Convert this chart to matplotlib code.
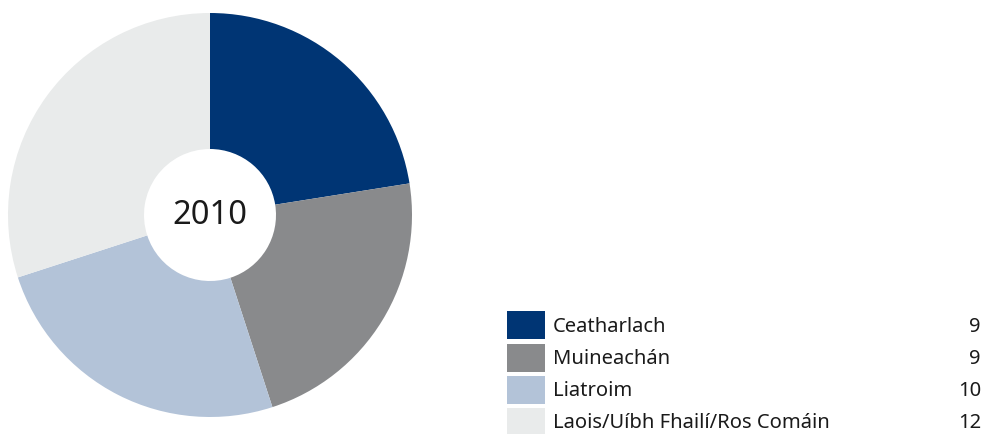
import matplotlib
matplotlib.use("Agg")
import matplotlib.pyplot as plt
from matplotlib.patches import Rectangle

plt.rcParams['font.family'] = ['Noto Sans', 'DejaVu Sans']

categories = ["Ceatharlach", "Muineachán", "Liatroim", "Laois/Uíbh Fhailí/Ros Comáin"]
values = [9, 9, 10, 12]
colors = ["#003574", "#898a8c", "#b3c3d8", "#e9ebeb"]
center_label = "2010"

W, H = 985, 434
fig = plt.figure(figsize=(W / 100, H / 100), dpi=100)

# Pie axes in pixel geometry
cx, cy, R = 210, 215, 202
inner = 66
ax = fig.add_axes([(cx - R) / W, (H - cy - R) / H, 2 * R / W, 2 * R / H])
ax.pie(values, colors=colors, startangle=90, counterclock=False, radius=1,
       wedgeprops=dict(width=1 - inner / R, linewidth=0))
ax.set_xlim(-1, 1)
ax.set_ylim(-1, 1)
ax.set_aspect('equal')
ax.axis('off')
ax.text(0, 0, center_label, ha='center', va='center', fontsize=23.5, color='#1a1a1a')

# Legend in pixel coords
lax = fig.add_axes([0, 0, 1, 1])
lax.set_xlim(0, W)
lax.set_ylim(H, 0)
lax.axis('off')
row_top = [311, 344, 376, 408]
for i, (cat, val, col) in enumerate(zip(categories, values, colors)):
    y0 = row_top[i]
    lax.add_patch(Rectangle((507, y0), 38, 28, facecolor=col, edgecolor='none'))
    yc = y0 + 14
    lax.text(553, yc + 1.5, cat, ha='left', va='center', fontsize=14.5, color='#1a1a1a')
    lax.text(981, yc + 1.5, str(val), ha='right', va='center', fontsize=14.5, color='#1a1a1a')

fig.savefig("out.png", dpi=100)
